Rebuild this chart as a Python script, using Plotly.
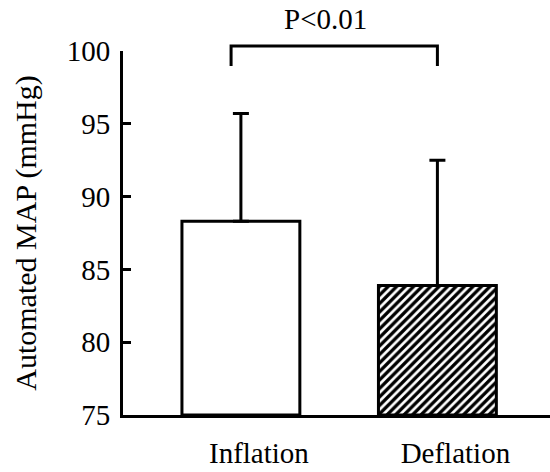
import plotly.graph_objects as go

# datos
condiciones = ['Inflation', 'Deflation']
map_media = [88.3, 83.9]
map_sd = [7.4, 8.6]
p_texto = 'P<0.01'

fuente = 'Liberation Serif, Times New Roman, serif'
base_y = 75

fig = go.Figure()
fig.add_trace(go.Bar(
    x=condiciones,
    y=[v - base_y for v in map_media],
    base=base_y,
    width=0.6,
    marker=dict(
        color='white',
        line=dict(color='black', width=3),
        pattern=dict(shape=['', '/'], fgcolor='black', bgcolor='white',
                     fgopacity=1, size=6, solidity=0.55),
    ),
    error_y=dict(type='data', symmetric=False, array=map_sd, arrayminus=[0, 0],
                 color='black', thickness=3, width=8),
))

# corchete de significancia
fig.add_shape(type='path', xref='x', yref='paper',
              path='M -0.05,0.959 L -0.05,1.0137 L 1.0,1.0137 L 1.0,0.959',
              line=dict(color='black', width=3))
fig.add_annotation(x=0.43, xref='x', y=1.088, yref='paper', yanchor='middle', text=p_texto,
                   showarrow=False, font=dict(size=29, color='black', family=fuente))

fig.update_layout(
    width=550, height=472,
    margin=dict(l=123, r=0, t=51, b=57),
    plot_bgcolor='white', paper_bgcolor='white',
    showlegend=False,
    font=dict(family=fuente, size=29, color='black'),
)
fig.update_xaxes(
    range=[-0.6, 1.573],
    showline=True, linecolor='black', linewidth=3,
    ticks='', showgrid=False, zeroline=False,
    ticklabelstandoff=10, ticklabelshift=18,
)
fig.update_yaxes(
    range=[75, 100],
    tickvals=[75, 80, 85, 90, 95, 100],
    showline=True, linecolor='black', linewidth=3,
    ticks='inside', ticklen=8, tickwidth=3, tickcolor='black',
    showgrid=False, zeroline=False,
    ticklabelstandoff=4,
    title=dict(text='Automated MAP (mmHg)', font=dict(size=30), standoff=22),
)

# quitar el margen del body para que la figura ocupe toda la ventana
fig.write_html('out.html', config={'displayModeBar': False},
               post_script="document.body.style.margin='0';")
